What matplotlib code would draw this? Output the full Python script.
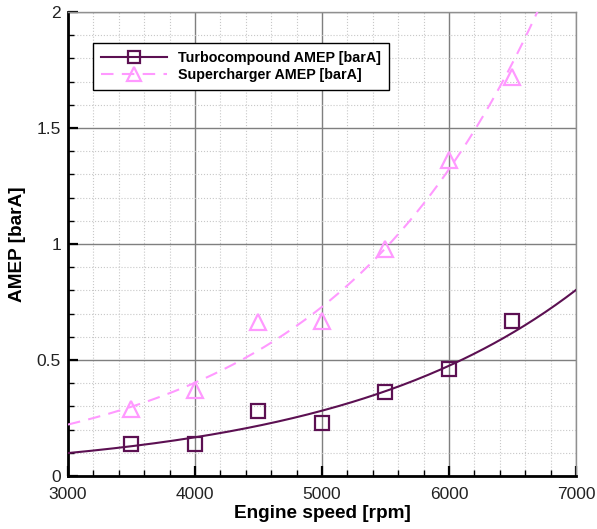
import matplotlib.pyplot as plt
from matplotlib.ticker import MultipleLocator
import numpy as np

plt.rcParams['font.family'] = ['Liberation Sans', 'DejaVu Sans']

# engine speed of the test points
speed = np.array([3500, 4000, 4500, 5000, 5500, 6000, 6500])
# AMEP
turbo_amep = np.array([0.14, 0.14, 0.28, 0.23, 0.36, 0.46, 0.67])
super_amep = np.array([0.29, 0.37, 0.665, 0.67, 0.98, 1.36, 1.72])

turbo_col = '#5c1052'
super_col = '#ff99ff'

# exponential trend lines fitted to the points (log-linear fit)
xfit = np.linspace(3000, 7000, 200)
kt = np.polyfit(speed, np.log(turbo_amep), 1)
ks = np.polyfit(speed, np.log(super_amep), 1)

fig = plt.figure(figsize=(5.97, 5.29), dpi=100)
ax = fig.add_axes([0.1139, 0.1002, 0.8509, 0.8771])

ax.plot(xfit, np.exp(np.polyval(kt, xfit)), color=turbo_col, lw=1.5, zorder=3)
ax.plot(xfit, np.exp(np.polyval(ks, xfit)), color=super_col, lw=1.5, ls=(0, (6, 4)), zorder=3)
ax.plot(speed, turbo_amep, ls='none', marker='s', ms=10, mfc='none', mec=turbo_col, mew=1.6, zorder=4)
ax.plot(speed, super_amep, ls='none', marker='^', ms=11, mfc='none', mec=super_col, mew=1.6, zorder=4)

# legend handles (line + marker)
h1, = ax.plot([], [], color=turbo_col, lw=1.5, marker='s', ms=9, mfc='none', mec=turbo_col, mew=1.6)
h2, = ax.plot([], [], color=super_col, lw=1.5, ls=(0, (6, 4)), marker='^', ms=10, mfc='none', mec=super_col, mew=1.6)
leg = ax.legend([h1, h2], ['Turbocompound AMEP [barA]', 'Supercharger AMEP [barA]'],
                loc='upper left', bbox_to_anchor=(0.049, 0.933), borderaxespad=0,
                fancybox=False, edgecolor='black', framealpha=1, handlelength=4.6,
                borderpad=0.55, labelspacing=0.2, handletextpad=0.8,
                prop={'weight': 'bold', 'size': 10.3})
leg.get_frame().set_linewidth(1.0)

ax.set_xlim(3000, 7000)
ax.set_ylim(0, 2)
ax.xaxis.set_major_locator(MultipleLocator(1000))
ax.xaxis.set_minor_locator(MultipleLocator(200))
ax.yaxis.set_minor_locator(MultipleLocator(0.1))
ax.set_yticks([0, 0.5, 1, 1.5, 2])
ax.set_yticklabels(['0', '0.5', '1', '1.5', '2'])

ax.grid(which='major', color='#7f7f7f', lw=1.0, ls='-')
ax.grid(which='minor', color='#c8c8c8', lw=0.8, ls=':')
ax.set_axisbelow(True)

ax.tick_params(which='major', direction='in', length=7, width=1.6, labelsize=12.5,
               labelcolor='#222222')
ax.tick_params(axis='x', which='major', pad=8)
ax.tick_params(axis='y', which='major', pad=5)
ax.tick_params(which='minor', direction='in', length=4, width=1.0)
ax.tick_params(top=False, right=False, which='both')

for s in ['left', 'bottom']:
    ax.spines[s].set_linewidth(2)
    ax.spines[s].set_color('black')
for s in ['top', 'right']:
    ax.spines[s].set_linewidth(1)
    ax.spines[s].set_color('#909090')

ax.set_xlabel('Engine speed [rpm]', fontsize=13.7, fontweight='bold', labelpad=2)
ax.set_ylabel('AMEP [barA]', fontsize=13.7, fontweight='bold', labelpad=8)

fig.savefig('out.png', dpi=100)
